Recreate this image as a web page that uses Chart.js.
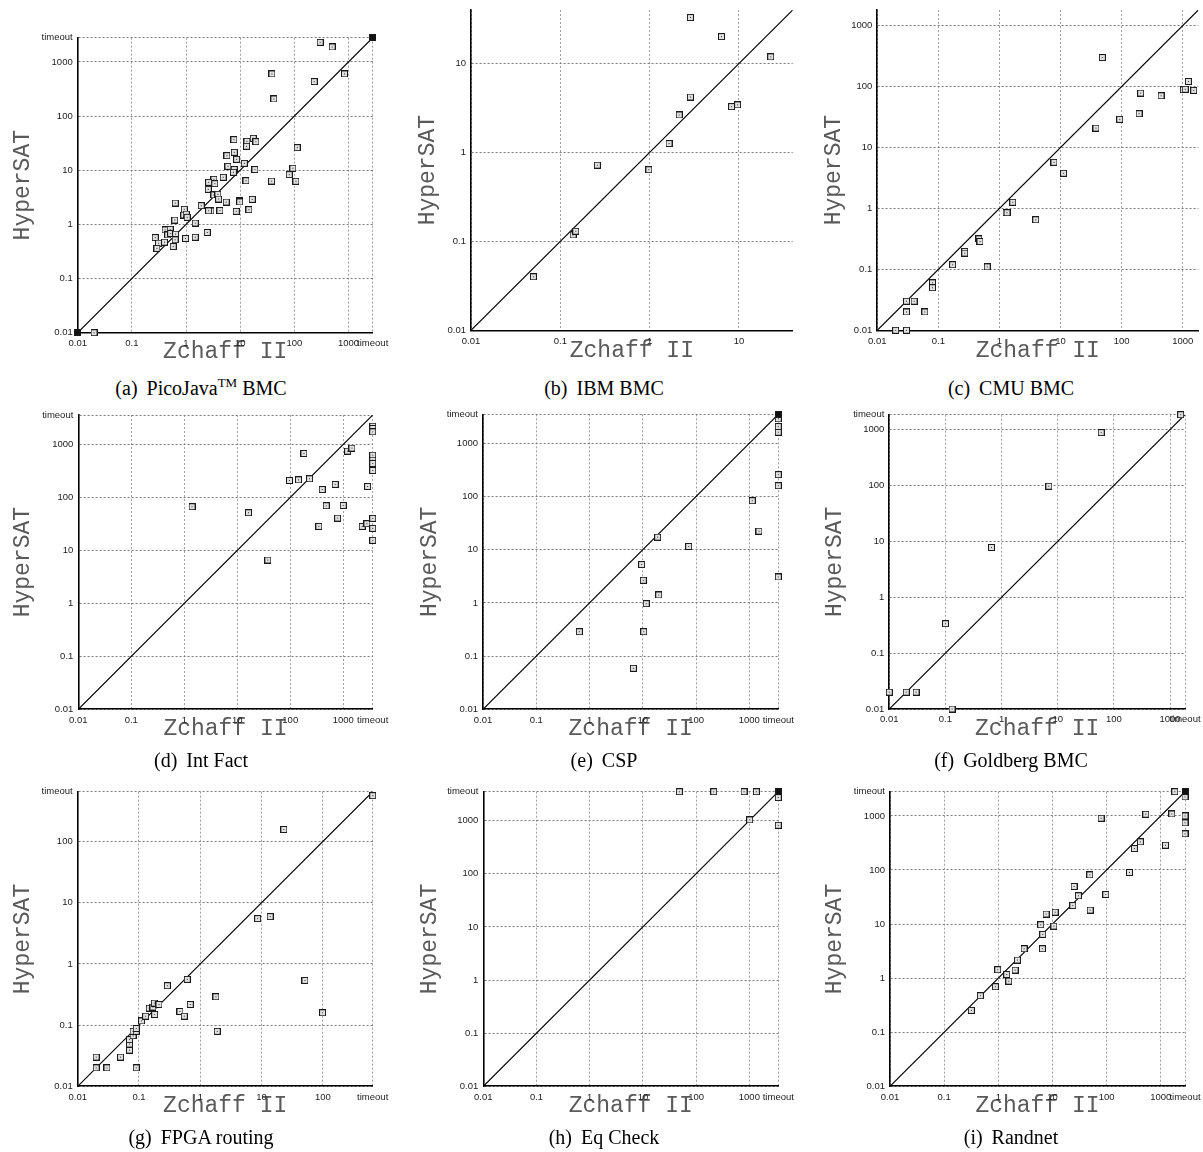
<!DOCTYPE html>
<html>
<head>
<meta charset="utf-8">
<script src="https://cdn.jsdelivr.net/npm/chart.js@4"></script>
<style>
  body { margin: 0; background: #fff; }
  #page { position: relative; width: 1203px; height: 1152px; overflow: hidden; }
  #page canvas { position: absolute; }
  .cap { position: absolute; width: 400px; text-align: center; font-family: "Liberation Serif", "Times New Roman", serif;
         font-size: 20px; line-height: 20px; color: #000; white-space: nowrap; }
  .cap .tag { margin-right: 0.45em; }
  .cap sup { font-size: 13px; line-height: 0; vertical-align: 8px; }
</style>
</head>
<body>
<div id="page"></div>
<script>
// tick values shared by every panel (seconds, log axes)
const decades = [0.01, 0.1, 1, 10, 100, 1000];
const timeoutLabel = 'timeout';

// (a) PicoJava BMC
const picoZchaff = [0.02, 300, 500, 843, 233, 38.5, 41.9, 7.66, 13.3, 17.4, 19.5, 13.1, 113, 7.78, 5.69, 8.59, 5.94, 7.78, 11.9, 18.7, 7.5, 94, 80.4, 107, 37.9, 12.8, 4.87, 3.27, 3.4, 2.61, 2.58, 3.27, 3.88, 4.0, 5.53, 9.6, 9.8, 16.7, 14.5, 8.46, 4.23, 2.88, 2.61, 1.91, 0.634, 0.93, 0.91, 1.01, 1.05, 1.48, 0.62, 0.41, 0.51, 0.46, 0.52, 0.64, 0.63, 0.58, 0.27, 0.31, 0.40, 0.29, 0.98, 1.48, 2.47];
const picoHyper  = [0.01, 2300, 1890, 600, 433, 600, 207, 36.7, 34.2, 38.9, 33.7, 27.7, 26.1, 21.4, 18.6, 15.9, 11.8, 10.3, 13.4, 10.3, 9.16, 10.9, 8.3, 6.25, 6.3, 6.4, 7.4, 6.8, 5.65, 5.98, 4.44, 3.49, 3.6, 2.94, 2.59, 2.74, 2.6, 2.9, 1.87, 1.74, 1.8, 1.77, 1.78, 2.22, 2.48, 1.9, 1.49, 1.55, 1.35, 1.06, 1.2, 0.79, 0.81, 0.64, 0.68, 0.66, 0.52, 0.39, 0.57, 0.45, 0.47, 0.36, 0.55, 0.58, 0.71];
const picoStackZ = [0.01, 2800];
const picoStackH = [0.01, 2800];

// (b) IBM BMC
const ibmZchaff = [0.05, 0.139, 0.149, 0.26, 0.98, 1.65, 2.14, 2.86, 2.86, 6.38, 8.27, 9.66, 22.7];
const ibmHyper  = [0.04, 0.118, 0.13, 0.72, 0.64, 1.26, 2.64, 4.2, 32.9, 20.1, 3.28, 3.43, 11.9];

// (c) CMU BMC
const cmuZchaff = [0.02, 0.03, 0.03, 0.03, 0.04, 0.06, 0.08, 0.08, 0.171, 0.27, 0.27, 0.46, 0.48, 0.63, 1.28, 1.33, 1.65, 3.92, 7.8, 11.2, 38, 48.3, 93, 193, 205, 442, 1025, 1100, 1240, 1514];
const cmuHyper  = [0.01, 0.01, 0.02, 0.03, 0.03, 0.02, 0.06, 0.05, 0.119, 0.197, 0.185, 0.317, 0.287, 0.11, 0.85, 0.85, 1.26, 0.65, 5.7, 3.77, 20.8, 299, 28.9, 35.8, 78, 70.5, 88.4, 90, 121, 86.3];

// (d) Int Fact
const intZchaff = [1.40, 16.3, 37.8, 96.8, 143, 181, 231, 347, 401, 477, 706, 782, 1000, 1208, 1458, 2285, 2800, 2880, 3600, 3600, 3600, 3600, 3600, 3600, 3600, 3600, 3600, 3600];
const intHyper  = [66.7, 51.4, 6.57, 209, 215, 676, 225, 28.4, 141, 69.7, 176, 40.7, 70.6, 748, 853, 28.4, 31.9, 161, 2218, 2005, 1733, 629, 506, 438, 323, 40.2, 26, 15.5];

// (e) CSP
const cspZchaff = [0.644, 6.64, 10.4, 11.6, 10.2, 9.5, 19.9, 19, 72.6, 1138, 1518, 3500, 3500, 3500, 3500, 3500, 3500];
const cspHyper  = [0.287, 0.059, 0.287, 0.966, 2.66, 5.25, 1.41, 17.2, 11.5, 83.2, 22.3, 3.07, 159, 257, 1612, 2061, 2874];
const cspStackZ = [3500];
const cspStackH = [3500];

// (f) Goldberg BMC
const goldZchaff = [0.01, 0.02, 0.03, 0.1, 0.131, 0.66, 6.95, 59.6, 1550];
const goldHyper  = [0.02, 0.02, 0.02, 0.336, 0.01, 7.77, 97, 884, 1850];

// (g) FPGA routing
const fpgaZchaff = [0.02, 0.02, 0.03, 0.05, 0.09, 0.07, 0.07, 0.07, 0.08, 0.08, 0.09, 0.09, 0.11, 0.128, 0.147, 0.169, 0.178, 0.212, 0.18, 0.29, 0.466, 0.548, 0.614, 0.687, 1.8, 1.89, 8.6, 13.8, 23.1, 50.9, 98.8, 650];
const fpgaHyper  = [0.03, 0.02, 0.02, 0.03, 0.02, 0.039, 0.049, 0.058, 0.067, 0.079, 0.079, 0.088, 0.117, 0.14, 0.189, 0.197, 0.229, 0.217, 0.149, 0.44, 0.167, 0.14, 0.557, 0.217, 0.29, 0.079, 5.49, 5.92, 157, 0.537, 0.159, 560];

// (h) Eq Check
const eqZchaff = [48.3, 214, 794, 1355, 1014, 3500, 3500];
const eqHyper  = [3500, 3500, 3500, 3500, 1030, 2715, 817];
const eqStackZ = [3500];
const eqStackH = [3500];

// (i) Randnet
const randZchaff = [0.318, 0.466, 0.883, 0.975, 1.43, 1.56, 2.04, 2.25, 2.99, 6.52, 6.07, 6.6, 7.62, 10.6, 11.2, 23.7, 25.1, 30.1, 48.8, 49.6, 96.4, 79, 264, 326, 421, 528, 1220, 1596, 1815, 2800, 2800, 2800, 2800];
const randHyper  = [0.253, 0.473, 0.694, 1.43, 1.17, 0.88, 1.41, 2.16, 3.49, 3.5, 9.7, 6.43, 15.3, 9.16, 16.6, 22, 49.5, 33.3, 81.3, 18.1, 35.2, 906, 89.8, 249, 331, 1074, 287, 1085, 2800, 2243, 1000, 743, 465];
const randStackZ = [2800];
const randStackH = [2800];

// axis top (the timeout value where labelled)
const axisTop = [2800, 40, 1800, 3600, 3500, 1850, 650, 3500, 2800];

const panels = [
  { tag: '(a)', name: 'PicoJava<sup>TM</sup> BMC', xs: picoZchaff, ys: picoHyper, sx: picoStackZ, sy: picoStackH, ticks: decades, timeout: true, plot: [77.7, 37.7, 372.7, 332.7], yGap: 55, xGap: 19 },
  { tag: '(b)', name: 'IBM BMC', xs: ibmZchaff, ys: ibmHyper, ticks: decades.slice(0, 4), timeout: false, plot: [471, 10, 792.7, 330.3], yGap: 43.5, xGap: 21 },
  { tag: '(c)', name: 'CMU BMC', xs: cmuZchaff, ys: cmuHyper, ticks: decades, timeout: false, plot: [877.3, 10, 1198.3, 330.3], yGap: 43, xGap: 21 },
  { tag: '(d)', name: 'Int Fact', xs: intZchaff, ys: intHyper, ticks: decades, timeout: true, plot: [78.3, 415, 372.7, 709.3], yGap: 55, xGap: 20 },
  { tag: '(e)', name: 'CSP', xs: cspZchaff, ys: cspHyper, sx: cspStackZ, sy: cspStackH, ticks: decades, timeout: true, plot: [483, 414.3, 778.3, 709.3], yGap: 53, xGap: 20 },
  { tag: '(f)', name: 'Goldberg BMC', xs: goldZchaff, ys: goldHyper, ticks: decades, timeout: true, plot: [889.3, 414.7, 1185, 709], yGap: 54, xGap: 20 },
  { tag: '(g)', name: 'FPGA routing', xs: fpgaZchaff, ys: fpgaHyper, ticks: decades.slice(0, 5), timeout: true, plot: [77.7, 791.7, 372.7, 1086.3], yGap: 55, xGap: 20 },
  { tag: '(h)', name: 'Eq Check', xs: eqZchaff, ys: eqHyper, sx: eqStackZ, sy: eqStackH, ticks: decades, timeout: true, plot: [483.3, 791.7, 778.3, 1086.3], yGap: 53, xGap: 19.5 },
  { tag: '(i)', name: 'Randnet', xs: randZchaff, ys: randHyper, sx: randStackZ, sy: randStackH, ticks: decades, timeout: true, plot: [890, 791.7, 1185, 1086.3], yGap: 55, xGap: 20 }
];

const colX = [0, 400, 800], colW = [400, 400, 403];
const rowY = [0, 390, 772], rowH = [372, 360, 355];
const capX = [201, 604, 1011], capY = [388, 760, 1137];

const titleSize = 23;
const titleHalf = titleSize * 1.2 / 2;

function makeBox(fill, dot) {
    const c = document.createElement('canvas');
    c.width = 7; c.height = 7;
    const g = c.getContext('2d');
    g.fillStyle = '#1a1a1a';
    g.fillRect(0, 0, 7, 7);
    g.fillStyle = fill;
    g.fillRect(1, 1, 5, 5);
    g.fillStyle = dot;
    g.fillRect(3, 3, 1, 1);
    return c;
}
const boxOpen = makeBox('#e0e0e0', '#333');
const boxFull = makeBox('#111', '#111');

const page = document.getElementById('page');

panels.forEach((p, i) => {
    const col = i % 3, row = Math.floor(i / 3);
    const [L, T, R, B] = p.plot;
    const top = axisTop[i];
    const tickVals = p.timeout ? p.ticks.concat([top]) : p.ticks;
    const yAxisW = p.yGap + titleHalf;
    const xAxisH = p.xGap + titleHalf;

    const canvas = document.createElement('canvas');
    canvas.width = colW[col];
    canvas.height = rowH[row];
    canvas.style.left = colX[col] + 'px';
    canvas.style.top = rowY[row] + 'px';
    page.appendChild(canvas);

    const cap = document.createElement('div');
    cap.className = 'cap';
    cap.style.left = (capX[col] - 200) + 'px';
    cap.style.top = (capY[row] - 10) + 'px';
    cap.innerHTML = '<span class="tag">' + p.tag + '</span>' + p.name;
    page.appendChild(cap);

    const label = v => (p.timeout && v === top) ? timeoutLabel : String(v);

    const axis = (title, isY) => ({
        type: 'logarithmic',
        min: decades[0],
        max: top,
        afterBuildTicks: s => { s.ticks = tickVals.map(v => ({ value: v })); },
        afterFit: s => {
            if (isY) s.width = yAxisW; else s.height = xAxisH;
            s.paddingLeft = s.paddingRight = s.paddingTop = s.paddingBottom = 0;
        },
        ticks: {
            autoSkip: false,
            maxRotation: 0,
            padding: 5,
            color: '#222',
            font: { family: 'Liberation Sans', size: 9.5 },
            callback: v => label(v)
        },
        grid: { drawTicks: false, color: isY ? '#7a7a7a' : '#a0a0a0', lineWidth: 1 },
        border: { display: true, color: '#000', width: 1.6, dash: [2, 2] },
        title: {
            display: true,
            text: title,
            color: '#5a5a5a',
            padding: 0,
            font: { family: 'Liberation Mono', size: titleSize }
        }
    });

    const pts = (xs, ys) => xs.map((x, k) => ({ x: x, y: ys[k] }));
    const datasets = [];
    if (p.sx) {
        datasets.push({ data: pts(p.sx, p.sy), pointStyle: boxFull, pointRadius: 3.5, clip: false });
    }
    datasets.push({ data: pts(p.xs, p.ys), pointStyle: boxOpen, pointRadius: 3.5, clip: false });
    datasets.push({
        data: [{ x: decades[0], y: decades[0] }, { x: top, y: top }],
        showLine: true, borderColor: '#000', borderWidth: 1.1, pointRadius: 0
    });

    new Chart(canvas, {
        type: 'scatter',
        data: { datasets: datasets },
        options: {
            responsive: false,
            animation: false,
            events: [],
            layout: {
                autoPadding: false,
                padding: {
                    left: L - colX[col] - yAxisW,
                    top: T - rowY[row],
                    right: colX[col] + colW[col] - R,
                    bottom: rowY[row] + rowH[row] - B - xAxisH
                }
            },
            plugins: { legend: { display: false }, tooltip: { enabled: false } },
            scales: {
                x: axis('Zchaff II', false),
                y: axis('HyperSAT', true)
            }
        }
    });
});
</script>
</body>
</html>
